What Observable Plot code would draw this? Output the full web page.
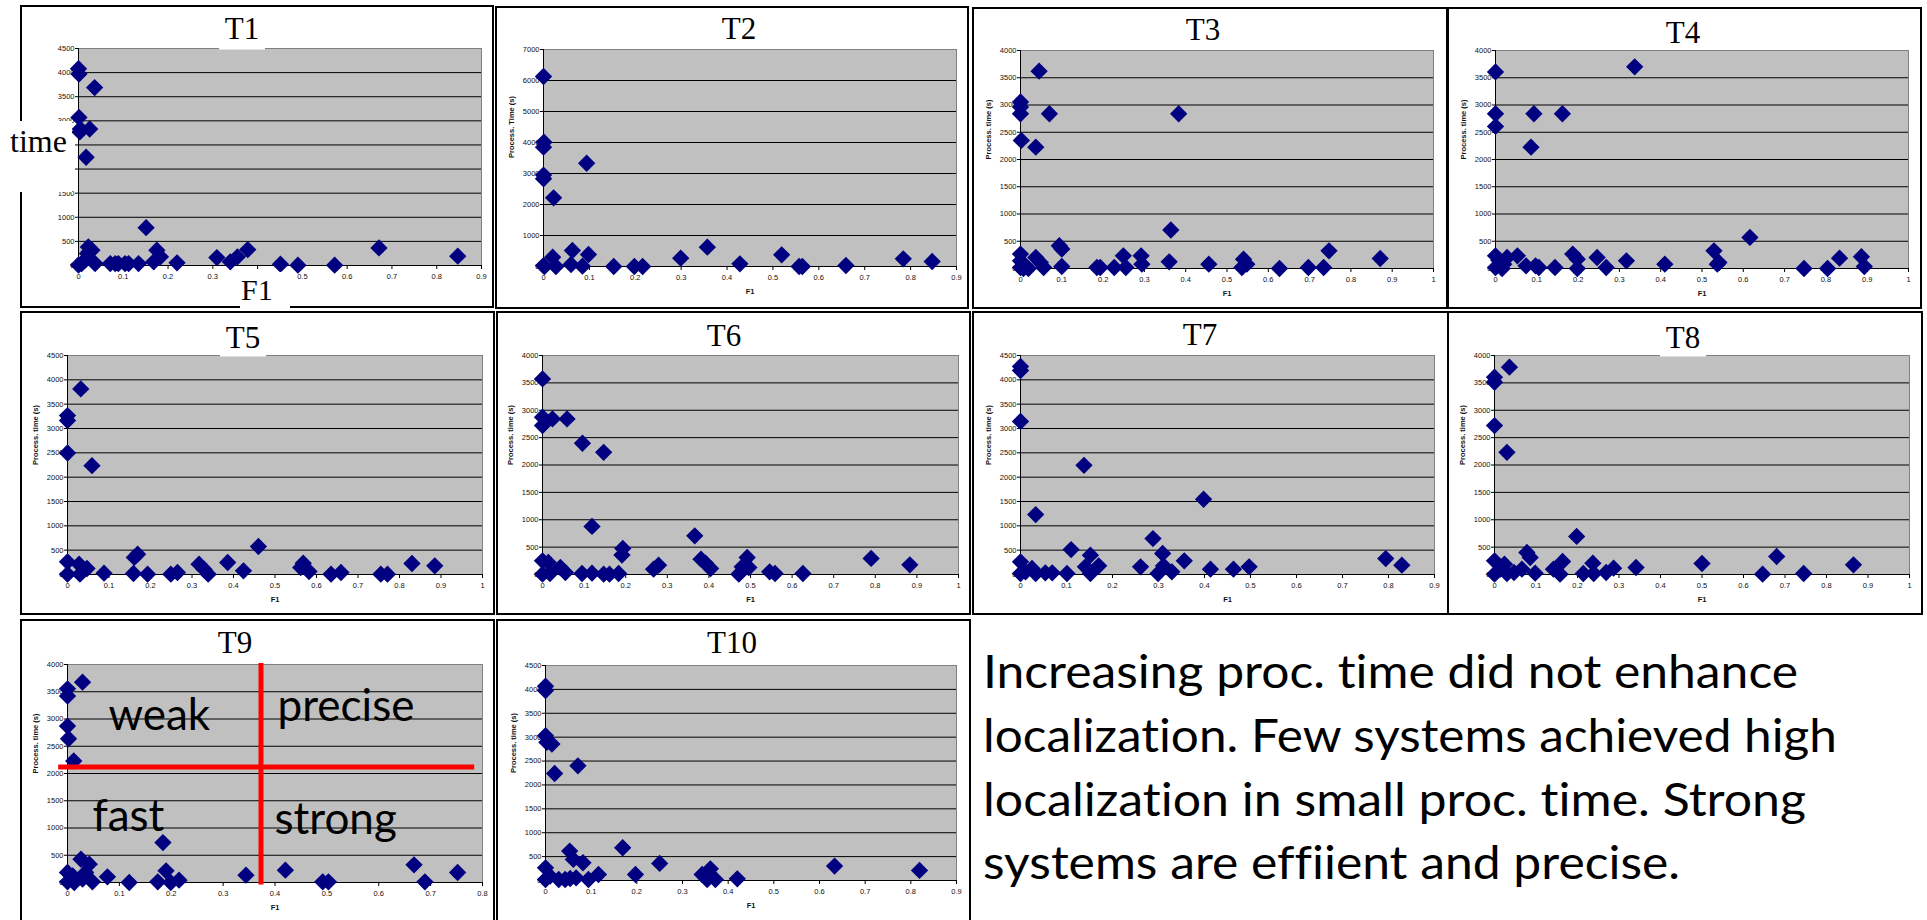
<!DOCTYPE html>
<html>
<head>
<meta charset="utf-8">
<script src="https://cdn.jsdelivr.net/npm/d3@7"></script>
<script src="https://cdn.jsdelivr.net/npm/@observablehq/plot@0.6"></script>
<style>
  html, body { margin: 0; padding: 0; background: #fff; }
  body { width: 1927px; height: 920px; overflow: hidden; position: relative; font-family: "Liberation Sans", Arial, sans-serif; }
  .box { position: absolute; border: 2px solid #000; box-sizing: border-box; background: #fff; z-index: 0; }
  .plotwrap { position: absolute; z-index: 1; }
  .plotwrap svg { display: block; }
  #overlay { position: absolute; left: 0; top: 0; z-index: 5; pointer-events: none; }
  #overlay text, .plotwrap text { font-variant-ligatures: none; font-feature-settings: "liga" 0, "clig" 0; }
</style>
</head>
<body>
<script>
// ---------------- DATA ----------------
const panelNames = ["T1", "T2", "T3", "T4", "T5", "T6", "T7", "T8", "T9", "T10"];

const yTicks4000 = [0, 500, 1000, 1500, 2000, 2500, 3000, 3500, 4000];
const yTicks4500 = [0, 500, 1000, 1500, 2000, 2500, 3000, 3500, 4000, 4500];
const yTicks7000 = [0, 1000, 2000, 3000, 4000, 5000, 6000, 7000];
const xTicks08 = [0, 0.1, 0.2, 0.3, 0.4, 0.5, 0.6, 0.7, 0.8];
const xTicks09 = [0, 0.1, 0.2, 0.3, 0.4, 0.5, 0.6, 0.7, 0.8, 0.9];
const xTicks10 = [0, 0.1, 0.2, 0.3, 0.4, 0.5, 0.6, 0.7, 0.8, 0.9, 1];

// T1 tick labels hidden under the pasted "time" / "F1" patches
const t1HiddenYLabels = [2000, 2500];
const t1HiddenXLabels = [0.4];

const xAxisLabel = "F1";
const yAxisLabels = [null, "Process. Time (s)", "Process. time (s)", "Process. time (s)", "Process. time (s)",
  "Process. time (s)", "Process. time (s)", "Process. time (s)", "Process. time (s)", "Process. time (s)"];

// [F1, process time (s)]
const T1 = [[0,4080],[0.001,3970],[0.036,3690],[0.001,3070],[0.004,2830],[0.003,2770],[0.025,2830],[0.017,2245],
  [0.151,785],[0.022,386],[0.030,317],[0,10],[0.007,40],[0.015,110],[0.02,250],[0.037,40],[0.071,40],[0.082,40],
  [0.089,40],[0.104,40],[0.112,40],[0.134,40],[0.168,76],[0.175,317],[0.183,180],[0.22,55],[0.309,165],[0.339,76],
  [0.355,180],[0.378,330],[0.451,28],[0.49,7],[0.572,7],[0.671,365],[0.847,193]];
const T2 = [[0,6130],[0.001,4010],[0,3850],[0,2950],[0,2830],[0.022,2215],[0.094,3330],[0.063,516],[0.06,65],
  [0.085,11],[0.098,387],[0.02,300],[0.027,0],[0,30],[0.002,0],[0.153,0],[0.198,0],[0.216,0],[0.299,269],[0.357,624],
  [0.428,86],[0.519,376],[0.557,0],[0.564,0],[0.659,32],[0.784,247],[0.847,161]];
const T3 = [[0.045,3620],[0,3055],[0,2963],[0,2840],[0.07,2840],[0.383,2840],[0.002,2350],[0.037,2227],[0.364,706],
  [0.094,417],[0.1,356],[0.1,37],[0,264],[0,141],[0,18],[0.007,0],[0.019,0],[0.037,202],[0.048,110],[0.056,18],
  [0.185,18],[0.193,18],[0.227,18],[0.249,233],[0.255,18],[0.292,233],[0.294,80],[0.36,123],[0.456,80],[0.54,172],
  [0.548,80],[0.536,18],[0.627,0],[0.697,18],[0.734,18],[0.747,325],[0.871,184]];
const T4 = [[0,3607],[0,2840],[0,2607],[0.093,2840],[0.162,2840],[0.086,2227],[0.337,3700],[0.616,570],[0.529,325],
  [0.537,80],[0.541,110],[0.747,0],[0.804,0],[0.833,190],[0.886,215],[0.893,37],[0.41,80],[0.317,141],[0.246,202],
  [0.268,18],[0.187,264],[0.198,172],[0.198,0],[0.144,18],[0.105,18],[0.097,49],[0.074,49],[0.053,233],[0.028,202],
  [0.02,80],[0.008,150],[0,233],[0,18],[0.016,0]];
const T5 = [[0.032,3814],[0,3265],[0,3162],[0,2497],[0.059,2236],[0,261],[0,7],[0.028,213],[0.03,7],[0.047,123],
  [0.088,27],[0.161,350],[0.169,418],[0.159,20],[0.193,7],[0.249,7],[0.265,41],[0.317,213],[0.329,110],[0.339,7],
  [0.386,247],[0.424,75],[0.46,576],[0.568,233],[0.562,144],[0.582,62],[0.635,7],[0.659,41],[0.755,7],[0.771,7],
  [0.83,226],[0.885,178]];
const T6 = [[0,3573],[0,2872],[0,2720],[0.024,2842],[0.059,2842],[0.096,2397],[0.147,2232],[0.119,878],[0.193,476],
  [0.191,354],[0.366,707],[0.381,280],[0.392,207],[0.404,110],[0.492,311],[0.496,128],[0.48,140],[0.472,6],[0.546,49],
  [0.559,18],[0.626,18],[0.79,293],[0.883,177],[0.267,98],[0.279,171],[0.095,18],[0.119,24],[0.147,6],[0.161,6],
  [0.183,18],[0,250],[0,6],[0.014,220],[0.018,18],[0.043,128],[0.055,37]];
const T7 = [[0,4274],[0,4192],[0,3146],[0.138,2243],[0.033,1231],[0.398,1546],[0.288,739],[0.11,513],[0.152,397],
  [0.141,157],[0.152,21],[0.17,178],[0.261,157],[0.309,431],[0.311,178],[0.299,21],[0.329,55],[0.356,280],[0.413,109],
  [0.463,109],[0.497,157],[0.794,328],[0.829,191],[0.101,21],[0.069,34],[0.054,34],[0,260],[0,21],[0.011,55],
  [0.025,123],[0.033,21]];
const T8 = [[0.036,3787],[0,3604],[0,3512],[0,2720],[0.03,2232],[0.198,695],[0.078,402],[0.086,311],[0.164,238],
  [0.158,6],[0.142,98],[0.237,207],[0.239,18],[0.214,18],[0.269,37],[0.287,116],[0.341,128],[0.5,201],[0.646,6],
  [0.68,329],[0.745,18],[0.865,177],[0.098,24],[0.066,98],[0.047,37],[0,250],[0,6],[0.014,98],[0.024,189],[0.03,18]];
const T9 = [[0.029,3676],[0,3554],[0,3420],[0,2870],[0.002,2638],[0.012,2229],[0.184,733],[0.026,427],[0.042,336],
  [0.035,183],[0.077,104],[0.119,0],[0.174,12],[0.19,214],[0.199,0],[0.215,43],[0.344,134],[0.42,226],[0.492,12],
  [0.503,12],[0.668,324],[0.689,12],[0.752,183],[0,183],[0,12],[0.01,122],[0.013,0],[0.029,61],[0.048,12]];
const T10 = [[0,4067],[0,3976],[0,3031],[0.003,2891],[0.014,2856],[0.02,2240],[0.071,2401],[0.053,616],[0.061,441],
  [0.082,371],[0.169,686],[0.197,126],[0.25,357],[0.343,126],[0.361,245],[0.354,21],[0.372,21],[0.35,91],[0.42,35],
  [0.633,301],[0.819,210],[0.116,126],[0.094,21],[0,266],[0,21],[0.01,91],[0.029,21],[0.043,21],[0.054,42],[0.067,56]];

const panelSeries = [T1, T2, T3, T4, T5, T6, T7, T8, T9, T10];
const panelYTicks = [yTicks4500, yTicks7000, yTicks4000, yTicks4000, yTicks4500, yTicks4000, yTicks4500, yTicks4000, yTicks4000, yTicks4500];
const panelXTicks = [xTicks09, xTicks09, xTicks10, xTicks10, xTicks10, xTicks10, xTicks09, xTicks10, xTicks08, xTicks09];

// T9 quadrant annotation
const t9SplitF1 = 0.373;
const t9SplitTime = 2120;
const t9VerticalSpan = [-45, 4020];
const t9HorizontalSpan = [-0.017, 0.785];
const t9QuadrantLabels = [
  {label: "weak", f1: 0.079, time: 2807},
  {label: "precise", f1: 0.405, time: 2972},
  {label: "fast", f1: 0.048, time: 936},
  {label: "strong", f1: 0.399, time: 881}
];

// Big side note
const noteLines = [
  "Increasing proc. time did not enhance",
  "localization. Few systems achieved high",
  "localization in small proc. time. Strong",
  "systems are effiient and precise."
];

// ---------------- LAYOUT (page pixels) ----------------
// box: [x, y, w, h]; plot: [left, top, right, bottom]; title: [centerX, baseline]
const layout = [
  {box: [20, 5, 474, 303],   plot: [78, 48, 481, 265],     title: [242, 39]},
  {box: [495, 6, 474, 303],  plot: [543, 49, 956, 266],    title: [739, 39]},
  {box: [972, 7, 476, 302],  plot: [1020, 50, 1433, 268],  title: [1203, 40]},
  {box: [1447, 7, 475, 302], plot: [1495, 50, 1908, 268],  title: [1683, 43]},
  {box: [20, 311, 475, 304], plot: [67, 355, 482, 574],    title: [243, 348]},
  {box: [496, 311, 475, 304], plot: [542, 355, 958, 574],  title: [724, 346]},
  {box: [972, 311, 477, 304], plot: [1020, 355, 1434, 574], title: [1200, 345]},
  {box: [1447, 311, 476, 304], plot: [1494, 355, 1909, 574], title: [1683, 348]},
  {box: [20, 619, 475, 312], plot: [67, 664, 482, 882],    title: [235, 653]},
  {box: [496, 619, 475, 312], plot: [545, 665, 956, 880],  title: [732, 653]}
];
const titleCoverPanels = [0, 4, 7]; // titles with white backing that hides the plot top edge

const fmtX = d => String(+d.toFixed(1));

function renderPanel(i) {
  const L = layout[i];
  const [bx, by, bw, bh] = L.box;
  const [pl, pt, pr, pb] = L.plot;
  const yTicks = panelYTicks[i], xTicks = panelXTicks[i];
  const yMax = yTicks[yTicks.length - 1], xMax = xTicks[xTicks.length - 1];
  const yFmt = i === 0 ? (d => t1HiddenYLabels.includes(d) ? "" : String(d)) : (d => String(d));
  const xFmt = i === 0 ? (d => t1HiddenXLabels.includes(+d.toFixed(1)) ? "" : fmtX(d)) : fmtX;
  const marks = [
    Plot.frame({fill: "#c0c0c0", stroke: "#808080"}),
    Plot.ruleY(yTicks.filter(v => v > 0 && v < yMax), {stroke: "#000", strokeWidth: 1}),
    Plot.ruleY([0], {stroke: "#000"}),
    Plot.ruleX([0], {stroke: "#000"}),
    Plot.axisY({ticks: yTicks, tickSize: 3, tickPadding: 1, fontSize: 7.5, label: null, tickFormat: yFmt, fill: "#111"}),
    Plot.axisX({ticks: xTicks, tickSize: 4, tickPadding: 4, fontSize: 7.5, label: null, tickFormat: xFmt, fill: "#111"})
  ];
  if (yAxisLabels[i]) {
    marks.push(Plot.text([yAxisLabels[i]], {text: d => d, frameAnchor: "left", dx: -32, rotate: -90, fontWeight: "bold", fontSize: 7.5, fill: "#111"}));
  }
  if (i !== 0) {
    marks.push(Plot.text([xAxisLabel], {text: d => d, frameAnchor: "bottom", dy: 27, fontWeight: "bold", fontSize: 7.5, fill: "#111"}));
  }
  marks.push(Plot.dot(panelSeries[i], {x: d => d[0], y: d => d[1], symbol: "diamond2", r: 7.8, fill: "#000080", stroke: "none"}));
  if (i === 8) {
    marks.push(Plot.ruleX([t9SplitF1], {y1: t9VerticalSpan[0], y2: t9VerticalSpan[1], stroke: "#ff0000", strokeWidth: 5}));
    marks.push(Plot.ruleY([t9SplitTime], {x1: t9HorizontalSpan[0], x2: t9HorizontalSpan[1], stroke: "#ff0000", strokeWidth: 5}));
    marks.push(Plot.text(t9QuadrantLabels, {x: "f1", y: "time", text: "label", textAnchor: "start", lineAnchor: "bottom",
      fontSize: 44, fontFamily: "Lato, 'Open Sans', sans-serif", fill: "#000"}));
  }
  const svg = Plot.plot({
    width: bw, height: bh,
    marginLeft: pl - bx, marginTop: pt - by, marginRight: bx + bw - pr, marginBottom: by + bh - pb,
    x: {domain: [0, xMax]},
    y: {domain: [0, yMax]},
    style: {background: "transparent", overflow: "visible", fontFamily: "'Liberation Sans', Arial, sans-serif"},
    marks
  });
  const wrap = document.createElement("div");
  wrap.className = "plotwrap";
  wrap.style.left = bx + "px";
  wrap.style.top = by + "px";
  wrap.style.width = bw + "px";
  wrap.style.height = bh + "px";
  wrap.appendChild(svg);
  document.body.appendChild(wrap);
}

// boxes
layout.forEach(L => {
  const d = document.createElement("div");
  d.className = "box";
  d.style.left = L.box[0] + "px";
  d.style.top = L.box[1] + "px";
  d.style.width = L.box[2] + "px";
  d.style.height = L.box[3] + "px";
  document.body.appendChild(d);
});
panelNames.forEach((_, i) => renderPanel(i));

// overlay: titles, pasted labels, note text
const ov = d3.create("svg").attr("id", "overlay").attr("width", 1927).attr("height", 920);
const serif = "'Liberation Serif', 'Times New Roman', serif";

titleCoverPanels.forEach(i => {
  const [cx] = layout[i].title;
  const top = layout[i].plot[1];
  ov.append("rect").attr("x", cx - 23).attr("y", top - 34).attr("width", 46).attr("height", 35.5).attr("fill", "#fff");
});
panelNames.forEach((name, i) => {
  const [cx, base] = layout[i].title;
  ov.append("text").attr("x", cx).attr("y", base).attr("text-anchor", "middle")
    .attr("font-family", serif).attr("font-size", 31).attr("fill", "#000").text(name);
});

// T1 pasted big axis labels on white patches
ov.append("rect").attr("x", 0).attr("y", 121).attr("width", 72).attr("height", 71).attr("fill", "#fff");
ov.append("text").attr("x", 10).attr("y", 152).attr("font-family", serif).attr("font-size", 32).attr("fill", "#000").text("time");
ov.append("rect").attr("x", 240).attr("y", 272).attr("width", 50).attr("height", 37).attr("fill", "#fff");
ov.append("text").attr("x", 241).attr("y", 300).attr("font-family", serif).attr("font-size", 30).attr("fill", "#000").text(xAxisLabel);

// note
const noteX = 983, noteBase = [688, 752, 816, 879], noteWidths = [815, 854, 823, 697];
noteLines.forEach((line, k) => {
  ov.append("text").attr("x", noteX).attr("y", noteBase[k])
    .attr("font-family", "Lato, 'Open Sans', sans-serif").attr("font-size", 46).attr("fill", "#000")
    .attr("textLength", noteWidths[k]).attr("lengthAdjust", "spacingAndGlyphs")
    .text(line);
});
document.body.appendChild(ov.node());
</script>
</body>
</html>
